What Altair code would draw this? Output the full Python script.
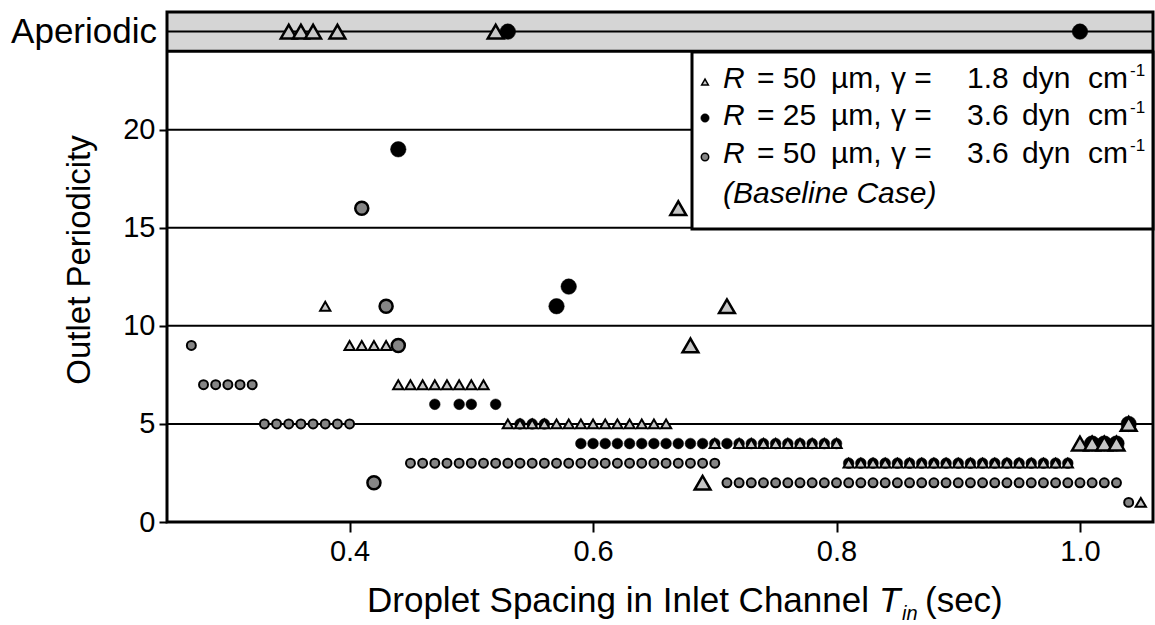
import altair as alt
import pandas as pd

FONT = "Liberation Sans"

# ---------------- data ----------------
# y = 25 stands for the "Aperiodic" row
# R = 50 um, gamma = 1.8 dyn/cm (triangles)
tri_x = [0.38,
         0.40, 0.41, 0.42, 0.43,
         0.44, 0.45, 0.46, 0.47, 0.48, 0.49, 0.50, 0.51,
         0.53, 0.54, 0.55, 0.56, 0.57, 0.58, 0.59, 0.60, 0.61, 0.62, 0.63, 0.64, 0.65, 0.66,
         0.70, 0.72, 0.73, 0.74, 0.75, 0.76, 0.77, 0.78, 0.79, 0.80,
         0.81, 0.82, 0.83, 0.84, 0.85, 0.86, 0.87, 0.88, 0.89, 0.90, 0.91, 0.92, 0.93, 0.94,
         0.95, 0.96, 0.97, 0.98, 0.99,
         1.05]
tri_y = [11,
         9, 9, 9, 9,
         7, 7, 7, 7, 7, 7, 7, 7,
         5, 5, 5, 5, 5, 5, 5, 5, 5, 5, 5, 5, 5, 5,
         4, 4, 4, 4, 4, 4, 4, 4, 4, 4,
         3, 3, 3, 3, 3, 3, 3, 3, 3, 3, 3, 3, 3, 3,
         3, 3, 3, 3, 3,
         1]
tri_big_x = [0.35, 0.36, 0.37, 0.39, 0.52, 0.67, 0.68, 0.69, 0.71, 1.00, 1.01, 1.02, 1.03, 1.04]
tri_big_y = [25, 25, 25, 25, 25, 16, 9, 2, 11, 4, 4, 4, 4, 5]

# R = 25 um, gamma = 3.6 dyn/cm (black circles)
blk_x = [0.47, 0.49, 0.50, 0.52,
         0.54, 0.55, 0.56,
         0.59, 0.60, 0.61, 0.62, 0.63, 0.64, 0.65, 0.66, 0.67, 0.68, 0.69, 0.70, 0.71,
         0.72, 0.73, 0.74, 0.75, 0.76, 0.77, 0.78, 0.79, 0.80,
         0.81, 0.82, 0.83, 0.84, 0.85, 0.86, 0.87, 0.88, 0.89, 0.90, 0.91, 0.92, 0.93, 0.94,
         0.95, 0.96, 0.97, 0.98, 0.99]
blk_y = [6, 6, 6, 6,
         5, 5, 5,
         4, 4, 4, 4, 4, 4, 4, 4, 4, 4, 4, 4, 4,
         4, 4, 4, 4, 4, 4, 4, 4, 4,
         3, 3, 3, 3, 3, 3, 3, 3, 3, 3, 3, 3, 3, 3,
         3, 3, 3, 3, 3]
blk_big_x = [0.44, 0.53, 0.57, 0.58, 1.00, 1.01, 1.02, 1.03, 1.04]
blk_big_y = [19, 25, 11, 12, 25, 4, 4, 4, 5]

# R = 50 um, gamma = 3.6 dyn/cm, baseline (grey circles)
gry_x = [0.27,
         0.28, 0.29, 0.30, 0.31, 0.32,
         0.33, 0.34, 0.35, 0.36, 0.37, 0.38, 0.39, 0.40,
         0.45, 0.46, 0.47, 0.48, 0.49, 0.50, 0.51, 0.52, 0.53, 0.54, 0.55, 0.56, 0.57,
         0.58, 0.59, 0.60, 0.61, 0.62, 0.63, 0.64, 0.65, 0.66, 0.67, 0.68, 0.69, 0.70,
         0.71, 0.72, 0.73, 0.74, 0.75, 0.76, 0.77, 0.78, 0.79, 0.80, 0.81, 0.82, 0.83,
         0.84, 0.85, 0.86, 0.87, 0.88, 0.89, 0.90, 0.91, 0.92, 0.93, 0.94, 0.95, 0.96,
         0.97, 0.98, 0.99, 1.00, 1.01, 1.02, 1.03,
         1.04]
gry_y = [9,
         7, 7, 7, 7, 7,
         5, 5, 5, 5, 5, 5, 5, 5,
         3, 3, 3, 3, 3, 3, 3, 3, 3, 3, 3, 3, 3,
         3, 3, 3, 3, 3, 3, 3, 3, 3, 3, 3, 3, 3,
         2, 2, 2, 2, 2, 2, 2, 2, 2, 2, 2, 2, 2,
         2, 2, 2, 2, 2, 2, 2, 2, 2, 2, 2, 2, 2,
         2, 2, 2, 2, 2, 2, 2,
         1]
gry_big_x = [0.41, 0.42, 0.43, 0.44]
gry_big_y = [16, 2, 11, 9]

x_ticks = [0.4, 0.6, 0.8, 1.0]
y_ticks = [0, 5, 10, 15, 20]
grid_y = [5, 10, 15, 20, 25]
band_lo, band_hi = 24, 26
aperiodic_y = 25

legend_rows = [
    ("50", "1.8"),
    ("25", "3.6"),
    ("50", "3.6"),
]

# ---------------- styles ----------------
W, H = 986, 510
TRI_FILL = "#c6c6c6"
GRY_FILL = "#858585"
BAND_FILL = "#d5d5d5"

xs = alt.Scale(domain=[0.25, 1.06], nice=False, zero=False)
ys = alt.Scale(domain=[0, 26], nice=False, zero=False)

X_AXIS = alt.Axis(values=x_ticks, format=".1f", title=None, labelFont=FONT,
                  labelFontSize=29, labelColor="black", tickSize=10, tickWidth=2,
                  tickColor="black", domain=False, grid=False, labelPadding=5)
Y_AXIS = alt.Axis(values=y_ticks, title=None, labelFont=FONT, labelFontSize=29,
                  labelColor="black", tickSize=8, tickWidth=2, tickColor="black",
                  domain=False, grid=False, labelPadding=4)


def df(x, y):
    return pd.DataFrame({"x": x, "y": y})


def enc(chart):
    return chart.encode(x=alt.X("x:Q", scale=xs, axis=X_AXIS),
                        y=alt.Y("y:Q", scale=ys, axis=Y_AXIS))


band = alt.Chart(pd.DataFrame({"lo": [band_lo], "hi": [band_hi]})).mark_rect(
    color=BAND_FILL).encode(
    x=alt.value(0), x2=alt.value(W),
    y=alt.Y("lo:Q", scale=ys, axis=Y_AXIS), y2="hi:Q")

grid = alt.Chart(pd.DataFrame({"y": grid_y})).mark_rule(
    color="black", strokeWidth=2).encode(y=alt.Y("y:Q", scale=ys, axis=Y_AXIS))

sep = alt.Chart(pd.DataFrame({"y": [band_lo]})).mark_rule(
    color="black", strokeWidth=3).encode(y=alt.Y("y:Q", scale=ys, axis=Y_AXIS))

blk_small = enc(alt.Chart(df(blk_x, blk_y)).mark_point(
    shape="circle", filled=True, fill="black", stroke="black", strokeWidth=0.5,
    size=115, opacity=1))
blk_big = enc(alt.Chart(df(blk_big_x, blk_big_y)).mark_point(
    shape="circle", filled=True, fill="black", stroke="black", strokeWidth=0.5,
    size=240, opacity=1))
gry_small = enc(alt.Chart(df(gry_x, gry_y)).mark_point(
    shape="circle", filled=True, fill=GRY_FILL, stroke="black", strokeWidth=2,
    size=80, opacity=1))
tri_small = enc(alt.Chart(df(tri_x, tri_y)).mark_point(
    shape="triangle-up", filled=True, fill=TRI_FILL, stroke="black", strokeWidth=2,
    size=105, opacity=1))
tri_big = enc(alt.Chart(df(tri_big_x, tri_big_y)).mark_point(
    shape="triangle-up", filled=True, fill=TRI_FILL, stroke="black", strokeWidth=2.5,
    size=250, opacity=1))
gry_big = enc(alt.Chart(df(gry_big_x, gry_big_y)).mark_point(
    shape="circle", filled=True, fill=GRY_FILL, stroke="black", strokeWidth=2.5,
    size=170, opacity=1))

frame = alt.Chart(pd.DataFrame({"a": [0]})).mark_rect(
    fillOpacity=0, stroke="black", strokeWidth=3).encode(
    x=alt.value(0), x2=alt.value(W), y=alt.value(0), y2=alt.value(H))


def txt(text, x, y, size, style="normal", align="left", baseline="alphabetic", angle=0):
    return alt.Chart(pd.DataFrame({"t": [text]})).mark_text(
        font=FONT, fontSize=size, fontStyle=style, align=align, baseline=baseline,
        angle=angle, color="black").encode(text="t:N", x=alt.value(x), y=alt.value(y))


# legend box
leg_box = alt.Chart(pd.DataFrame({"a": [0]})).mark_rect(
    fill="white", stroke="black", strokeWidth=3).encode(
    x=alt.value(525), x2=alt.value(W), y=alt.value(40), y2=alt.value(217))

leg_layers = []
marker_y = [70, 106, 145]
base_y = [76, 113, 151]
marker_styles = [
    dict(shape="triangle-up", fill=TRI_FILL, stroke="black", strokeWidth=1.5, size=45),
    dict(shape="circle", fill="black", stroke="black", strokeWidth=0.5, size=70),
    dict(shape="circle", fill=GRY_FILL, stroke="black", strokeWidth=1.5, size=55),
]
for (r, g), my, by, ms in zip(legend_rows, marker_y, base_y, marker_styles):
    leg_layers.append(
        alt.Chart(pd.DataFrame({"a": [0]})).mark_point(filled=True, opacity=1, **ms)
        .encode(x=alt.value(538), y=alt.value(my)))
    leg_layers.append(txt("R", 556, by, 30, style="italic"))
    leg_layers.append(txt(f"= {r}", 590, by, 30))
    leg_layers.append(txt("\u00b5m,", 664, by, 30))
    leg_layers.append(txt("\u03b3 =", 724, by, 30))
    leg_layers.append(txt(g, 800, by, 30))
    leg_layers.append(txt("dyn", 855, by, 30))
    leg_layers.append(txt("cm", 921, by, 30))
    leg_layers.append(txt("-1", 963, by - 12, 17))
leg_layers.append(txt("(Baseline Case)", 556, 191, 30, style="italic"))

# axis titles
titles = [
    txt("Droplet Spacing in Inlet Channel", 200, 600, 35),
    txt("T", 712, 600, 35, style="italic"),
    txt("in", 735, 608, 20, style="italic"),
    txt("(sec)", 758, 600, 35),
    txt("Outlet Periodicity", -87, 248, 33, align="center", baseline="middle", angle=270),
]
aper = alt.Chart(pd.DataFrame({"y": [aperiodic_y], "t": ["Aperiodic"]})).mark_text(
    font=FONT, fontSize=35, align="right", baseline="middle", color="black").encode(
    x=alt.value(-10), y=alt.Y("y:Q", scale=ys, axis=Y_AXIS), text="t:N")

chart = alt.layer(
    band, grid, sep, blk_small, blk_big, gry_small, tri_small, tri_big, gry_big,
    frame, leg_box, *leg_layers, *titles, aper
).properties(
    width=W, height=H,
    autosize=alt.AutoSizeParams(type="none"),
    padding={"left": 167, "top": 12, "right": 2, "bottom": 103},
).configure_view(strokeWidth=0).configure(background="white")

chart.save("out.html", embed_options={"renderer": "svg", "actions": False})
